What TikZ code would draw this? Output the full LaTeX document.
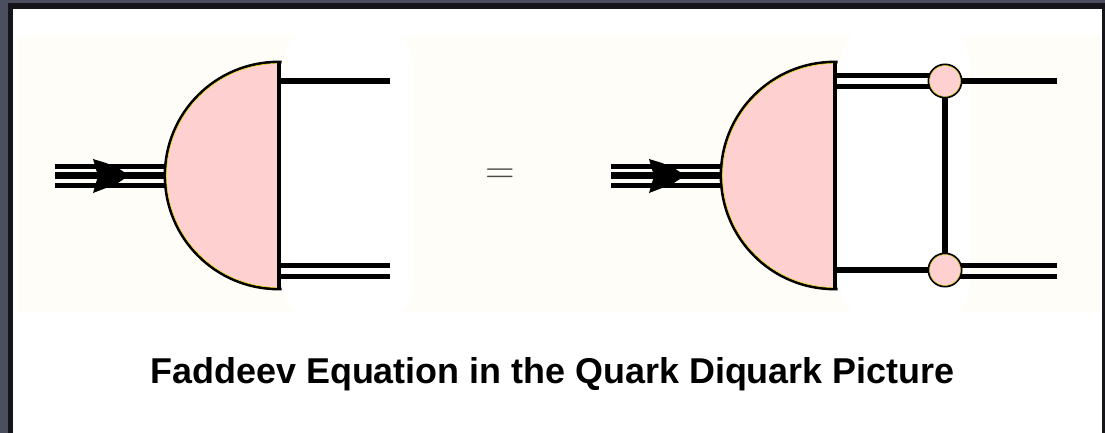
\documentclass[tikz,border=0pt]{standalone}
\usepackage{fontspec}
\setmainfont{Liberation Sans}
\definecolor{pinkfill}{HTML}{FFD0D0}
\definecolor{cream}{HTML}{FFFDF7}
\definecolor{slate}{HTML}{4B4E5E}
\definecolor{frameblk}{HTML}{14141A}
\tikzset{
  single/.style={line width=6pt,black},
  dbl/.style={line width=5pt,black},
  vertex/.style={circle,draw=black,line width=2pt,fill=pinkfill,minimum size=33pt,inner sep=0pt},
  vrim/.style={circle,draw=yellow!85!black,line width=.5pt,minimum size=31pt,inner sep=0pt},
  headfill/.style={fill=black,draw=none}
}
\newcommand{\halfdisc}[1]{%
  \fill[pinkfill] (#1,62) arc[start angle=-90,end angle=-270,radius=113.5] -- cycle;
  \draw[black,line width=2.8pt] (#1+3,62) -- (#1,62) arc[start angle=-90,end angle=-270,radius=113.5] -- (#1+3,289);
  \draw[yellow!90!black,line width=.6pt] (#1,63.5) arc[start angle=-90,end angle=-270,radius=112];
  \draw[black,line width=4pt] (#1,62) -- (#1,289);
}
\newcommand{\threeline}[1]{%
  \coordinate (in#1a) at (#1,166); \coordinate (in#1b) at (#1,175.5); \coordinate (in#1c) at (#1,185);
  \coordinate (to#1a) at (#1+110,166); \coordinate (to#1b) at (#1+110,175.5); \coordinate (to#1c) at (#1+110,185);
  \draw[dbl] (in#1a) -- (to#1a);
  \draw[line width=7pt] (in#1b) -- (to#1b);
  \draw[dbl] (in#1c) -- (to#1c);
  \fill[headfill] (#1+38,159) -- (#1+51,163) -- (#1+63,168) -- (#1+74,175.5) -- (#1+63,183) -- (#1+51,188) -- (#1+38,193) -- (#1+43,176) -- cycle;
}
\begin{document}
\begin{tikzpicture}[x=1pt,y=-1pt]
\useasboundingbox (0,0) rectangle (1105,433);
\clip (0,0) rectangle (1105,433);
% window frame
\fill[slate] (0,0) rectangle (1105,433);
\fill[frameblk] (8,3) rectangle (1105,433);
\fill[white] (13,9) rectangle (1102,433);
% panel
\fill[cream] (17,36) rectangle (1100,313);
\fill[white,rounded corners=42pt] (283,24) rectangle (413,325);
\fill[white,rounded corners=42pt] (840,24) rectangle (970,325);
% left diagram
\threeline{55}
\halfdisc{278.5}
\coordinate (la) at (278,81); \coordinate (lb) at (390,81);
\coordinate (lc) at (278,265); \coordinate (ld) at (390,265);
\coordinate (le) at (278,276); \coordinate (lf) at (390,276);
\draw[single] (la) -- (lb);
\draw[dbl] (lc) -- (ld);
\draw[dbl] (le) -- (lf);
% equals sign
\node[inner sep=0pt,font=\fontspec{Latin Modern Roman}\fontsize{41}{41}\selectfont,text=black!70] (eq) at (500,176.5) {=};
% right diagram
\threeline{611}
\halfdisc{834.5}
\coordinate (ra) at (834,76); \coordinate (rb) at (945,76);
\coordinate (rc) at (834,87); \coordinate (rd) at (945,87);
\coordinate (re) at (834,270); \coordinate (rf) at (945,270);
\coordinate (rg) at (945,265); \coordinate (rh) at (1057,265);
\coordinate (ri) at (945,276); \coordinate (rj) at (1057,276);
\coordinate (rk) at (945,81); \coordinate (rl) at (1057,81);
\draw[dbl] (ra) -- (rb);
\draw[dbl] (rc) -- (rd);
\draw[single] (re) -- (rf);
\draw[dbl] (rg) -- (rh);
\draw[dbl] (ri) -- (rj);
\draw[single] (rk) -- (rl);
\node[vertex] (v1) at (945,81) {};
\node[vertex] (v2) at (945,270) {};
\node[vrim] at (945,81) {};
\node[vrim] at (945,270) {};
\draw[line width=5.5pt] (v1) -- (v2);
% title
\node[inner sep=0pt,font=\bfseries\fontsize{35.9}{36}\selectfont] (title) at (552.5,374.5) {Faddeev Equation in the Quark Diquark Picture};
\end{tikzpicture}
\end{document}
